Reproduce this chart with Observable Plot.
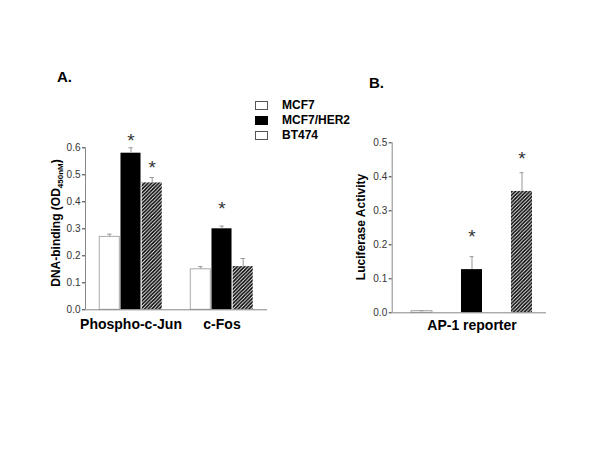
<!DOCTYPE html>
<html>
<head>
<meta charset="utf-8">
<script src="https://cdn.jsdelivr.net/npm/d3@7"></script>
<script src="https://cdn.jsdelivr.net/npm/@observablehq/plot@0.6"></script>
<style>
  body { margin: 0; background: #fff; }
  #chart { position: relative; width: 600px; height: 464px; background: #fff; font-family: "Liberation Sans", Arial, sans-serif; color: #000; }
  .title { position: absolute; font-weight: bold; font-size: 15px; line-height: 1; }
  .leg { position: absolute; left: 255px; height: 15px; display: flex; align-items: center; font-weight: bold; font-size: 12px; }
  .leg .box { width: 13px; height: 9px; margin-right: 14px; box-sizing: border-box; }
</style>
</head>
<body>
<div id="chart"></div>
<script>
// ---------------- data ----------------
const series = ["MCF7", "MCF7/HER2", "BT474"];

// Panel A: DNA-binding (OD450nM)
const categoriesA = ["Phospho-c-Jun", "c-Fos"];
const meanA_MCF7  = [0.27, 0.15];
const meanA_HER2  = [0.58, 0.30];
const meanA_BT474 = [0.47, 0.16];
const errA_MCF7   = [0.01, 0.01];
const errA_HER2   = [0.02, 0.01];
const errA_BT474  = [0.02, 0.03];
const yTicksA = [0, 0.1, 0.2, 0.3, 0.4, 0.5, 0.6];
// significance stars (category, series, height in data units)
const starCatA = ["Phospho-c-Jun", "Phospho-c-Jun", "c-Fos"];
const starSerA = ["MCF7/HER2", "BT474", "MCF7/HER2"];
const starYA   = [0.642, 0.543, 0.39];

// Panel B: Luciferase Activity
const categoryB = ["AP-1 reporter"];
const meanB = [0.005, 0.127, 0.357];
const errB  = [0.001, 0.038, 0.055];
const yTicksB = [0, 0.1, 0.2, 0.3, 0.4, 0.5];
const starSerB = ["MCF7/HER2", "BT474"];
const starYB   = [0.237, 0.465];

// ---------------- build tables ----------------
const meansA = [meanA_MCF7, meanA_HER2, meanA_BT474];
const errsA  = [errA_MCF7, errA_HER2, errA_BT474];
const dataA = series.flatMap((s, si) => categoriesA.map((c, ci) => ({series: s, si, ci, value: meansA[si][ci], err: errsA[si][ci]})));
const starsA = starCatA.map((c, i) => ({ci: categoriesA.indexOf(c), si: series.indexOf(starSerA[i]), y: starYA[i]}));
const dataB = series.map((s, si) => ({series: s, si, value: meanB[si], err: errB[si]}));
const starsB = starSerB.map((s, i) => ({si: series.indexOf(s), y: starYB[i]}));

// ---------------- styles ----------------
const fillOf = (s, id) => s === "MCF7" ? "white" : s === "MCF7/HER2" ? "black" : `url(#hatch${id})`;
const strokeOf = s => s === "MCF7" ? "#aaa" : "none";
const tickFont = "'Liberation Sans Narrow','Arial Narrow','Liberation Sans',Arial,sans-serif";
const labelFont = "'Liberation Sans',Arial,sans-serif";
const errColor = "#999";
const axisColor = "#888";

function addPattern(svg, id) {
  const w = 3.6;
  const p = d3.select(svg).insert("defs", ":first-child").append("pattern")
    .attr("id", "hatch" + id).attr("patternUnits", "userSpaceOnUse")
    .attr("width", w).attr("height", w);
  p.append("rect").attr("width", w).attr("height", w).attr("fill", "white");
  p.append("path").attr("d", `M-1,1 l2,-2 M0,${w} l${w},-${w} M${w - 1},${w + 1} l2,-2`)
    .attr("stroke", "black").attr("stroke-width", 1.6);
}

function addYLabel(svg, x, y, main, sub, tail) {
  const t = d3.select(svg).append("text")
    .attr("transform", `translate(${x},${y}) rotate(-90)`)
    .attr("text-anchor", "middle")
    .style("font-family", labelFont).style("font-weight", "bold").style("font-size", "12px")
    .attr("fill", "#000");
  t.append("tspan").text(main);
  if (sub) {
    t.append("tspan").attr("dy", 3).style("font-size", "8px").text(sub);
    t.append("tspan").attr("dy", -3).text(tail);
  }
}

const chart = document.getElementById("chart");

// ---------------- Panel A ----------------
const offA = 0.233, halfA = 0.11, capA = 0.024;
const posA = d => d.ci + (d.si - 1) * offA;
const xDomA = [-0.5, 1.5];

const plotA = Plot.plot({
  width: 300, height: 340,
  marginLeft: 85, marginRight: 33, marginTop: 147.3, marginBottom: 30.7,
  style: {background: "transparent", fontFamily: tickFont, fontSize: "10px", color: "#333", overflow: "visible"},
  x: {domain: xDomA, axis: null},
  y: {domain: [0, 0.6], ticks: yTicksA, tickFormat: d3.format(".1f"), tickSize: 3, tickPadding: 2, label: null},
  marks: [
    ...series.map(s => Plot.rect(dataA.filter(d => d.series === s), {
      x1: d => posA(d) - halfA, x2: d => posA(d) + halfA, y1: () => 0, y2: "value",
      fill: fillOf(s, "A"), stroke: strokeOf(s), strokeWidth: 1
    })),
    Plot.ruleX(dataA, {x: posA, y1: "value", y2: d => d.value + d.err, stroke: errColor}),
    Plot.ruleY(dataA, {y: d => d.value + d.err, x1: d => posA(d) - capA, x2: d => posA(d) + capA, stroke: errColor}),
    Plot.ruleY([0], {stroke: axisColor}),
    Plot.ruleX([xDomA[0]], {y1: 0, y2: yTicksA[yTicksA.length - 1], stroke: axisColor}),
    Plot.text(starsA, {x: posA, y: "y", text: () => "*", fontSize: 19, fill: "#333", dy: 4.5, fontFamily: labelFont}),
    Plot.text(categoriesA, {x: (d, i) => i, frameAnchor: "bottom", lineAnchor: "top", dy: 9.5,
      fontSize: 14, fontWeight: "bold", fill: "#000", fontFamily: labelFont})
  ]
});
plotA.style.position = "absolute"; plotA.style.left = "0px"; plotA.style.top = "0px";
addPattern(plotA, "A");
addYLabel(plotA, 59.5, 223, "DNA-binding (OD", "450nM", ")");
chart.appendChild(plotA);

// ---------------- Panel B ----------------
const halfB = 0.21, capB = 0.04;
const posB = d => d.si;
const xDomB = [-0.596, 2.49];

const plotB = Plot.plot({
  width: 300, height: 340,
  marginLeft: 91.7, marginRight: 54, marginTop: 142.3, marginBottom: 27.7,
  style: {background: "transparent", fontFamily: tickFont, fontSize: "10px", color: "#333", overflow: "visible"},
  x: {domain: xDomB, axis: null},
  y: {domain: [0, 0.5], ticks: yTicksB, tickFormat: d3.format(".1f"), tickSize: 3, tickPadding: 2, label: null},
  marks: [
    ...series.map(s => Plot.rect(dataB.filter(d => d.series === s), {
      x1: d => posB(d) - halfB, x2: d => posB(d) + halfB, y1: () => 0, y2: "value",
      fill: fillOf(s, "B"), stroke: strokeOf(s), strokeWidth: 1
    })),
    Plot.ruleX(dataB, {x: posB, y1: "value", y2: d => d.value + d.err, stroke: errColor}),
    Plot.ruleY(dataB, {y: d => d.value + d.err, x1: d => posB(d) - capB, x2: d => posB(d) + capB, stroke: errColor}),
    Plot.ruleY([0], {stroke: axisColor}),
    Plot.ruleX([xDomB[0]], {y1: 0, y2: yTicksB[yTicksB.length - 1], stroke: axisColor}),
    Plot.text(starsB, {x: posB, y: "y", text: () => "*", fontSize: 19, fill: "#333", dy: 4.5, fontFamily: labelFont}),
    Plot.text(categoryB, {x: () => 1, frameAnchor: "bottom", lineAnchor: "top", dy: 7.5,
      fontSize: 14, fontWeight: "bold", fill: "#000", fontFamily: labelFont})
  ]
});
plotB.style.position = "absolute"; plotB.style.left = "300px"; plotB.style.top = "0px";
addPattern(plotB, "B");
addYLabel(plotB, 65.3, 227, "Luciferase Activity");
chart.appendChild(plotB);

// ---------------- titles & legend ----------------
const titles = [["A.", 57, 69], ["B.", 369, 75]];
titles.forEach(([t, x, y]) => {
  const el = document.createElement("div");
  el.className = "title"; el.textContent = t;
  el.style.left = x + "px"; el.style.top = y + "px";
  chart.appendChild(el);
});
const legendBox = {"MCF7": "background:#fff;border:1px solid #555;", "MCF7/HER2": "background:#000;border:1px solid #000;", "BT474": "background:#fff;border:1px solid #555;"};
series.forEach((s, i) => {
  const row = document.createElement("div");
  row.className = "leg";
  row.style.top = (97.5 + i * 15) + "px";
  row.innerHTML = `<span class="box" style="${legendBox[s]}"></span><span>${s}</span>`;
  chart.appendChild(row);
});
</script>
</body>
</html>
